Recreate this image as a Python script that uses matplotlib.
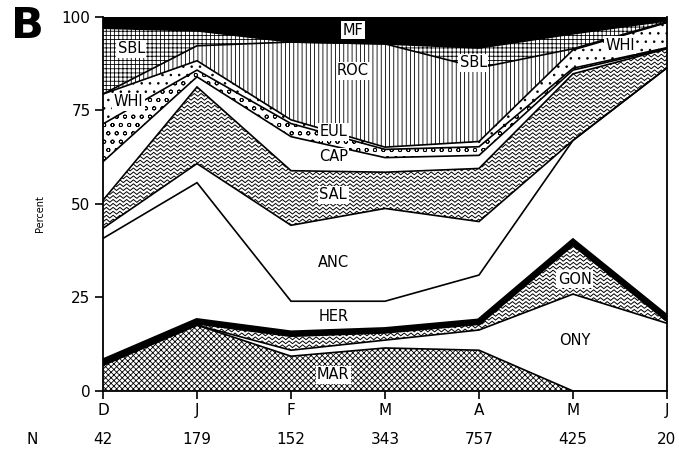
import numpy as np
import matplotlib
matplotlib.use("Agg")
import matplotlib.pyplot as plt
from matplotlib.collections import LineCollection
from matplotlib.patches import PathPatch

# months and sample sizes
months = ["D", "J", "F", "M", "A", "M", "J"]
n_samples = [42, 179, 152, 343, 757, 425, 20]

# percent of each group per month (bottom to top)
MAR = [6.9, 17.6, 9.3, 11.5, 10.9, 0.0, 0.0]
ONY = [0.0, 0.0, 1.6, 2.1, 5.4, 25.9, 18.1]
GON = [0.9, 1.0, 4.4, 2.6, 2.2, 13.9, 1.4]
HER = [33.0, 37.1, 8.7, 7.8, 12.5, 27.2, 66.9]
ANC = [2.7, 5.1, 20.3, 24.8, 14.3, 0.0, 0.0]
SAL = [7.5, 20.5, 14.6, 9.7, 14.2, 17.8, 5.1]
CAP = [10.3, 2.7, 9.1, 3.9, 3.5, 1.0, 0.1]
EUL = [10.1, 1.8, 3.5, 2.2, 2.3, 0.5, 0.2]
WHI = [8.0, 2.5, 1.0, 0.6, 1.4, 4.9, 6.7]
ROC = [0.0, 4.0, 20.8, 27.6, 19.7, 0.3, 0.2]
SBL = [17.6, 4.0, 0.0, 0.0, 5.3, 4.0, 0.3]
MF = [3.0, 3.7, 6.7, 7.2, 8.3, 4.5, 1.0]

layers = [("MAR", MAR, "xxxxxx"), ("ONY", ONY, None), ("GON", GON, "wavy"),
          ("HER", HER, None), ("ANC", ANC, None), ("SAL", SAL, "wavy"),
          ("CAP", CAP, None), ("EUL", EUL, "oo"), ("WHI", WHI, ".."),
          ("ROC", ROC, "||||"), ("SBL", SBL, "++++"), ("MF", MF, "black")]

plt.rcParams["hatch.linewidth"] = 0.6

x = np.arange(len(months))
fig = plt.figure(figsize=(6.79, 4.54), dpi=100)
ax = fig.add_axes([0.1517, 0.1388, 0.8306, 0.8238])


def wavy_fill(ax, x, lo, hi):
    # white band filled with rows of small zigzags, clipped to the band
    poly = ax.fill_between(x, lo, hi, facecolor="white", edgecolor="none")
    clip = PathPatch(poly.get_paths()[0], transform=ax.transData,
                     facecolor="none", edgecolor="none")
    ax.add_patch(clip)
    xs = np.arange(0, x[-1] + 0.05, 0.036)
    zig = np.where(np.arange(len(xs)) % 2 == 0, 0.0, 0.75)
    segs = [np.column_stack([xs, y0 + zig]) for y0 in np.arange(-1, 101, 1.05)]
    lc = LineCollection(segs, colors="k", linewidths=0.7)
    ax.add_collection(lc)
    lc.set_clip_path(clip)


bottom = np.zeros(len(x))
tops = {}
for name, vals, style in layers:
    top = bottom + np.array(vals)
    if style == "wavy":
        wavy_fill(ax, x, bottom, top)
    elif style == "black":
        ax.fill_between(x, bottom, top, facecolor="black", edgecolor="none")
    elif style is None:
        ax.fill_between(x, bottom, top, facecolor="white", edgecolor="none")
    else:
        ax.fill_between(x, bottom, top, facecolor="white", edgecolor="black",
                        hatch=style, linewidth=0)
    tops[name] = top
    bottom = top

# boundary lines
for name, vals, style in layers[:-1]:
    lw = 1.2
    if name == "GON":
        lw = 4.8
    ax.plot(x, tops[name], color="black", lw=lw, solid_joinstyle="miter")

# labels
lab = dict(fontsize=10.5, ha="center", va="center", color="black")
box = dict(boxstyle="square,pad=0.1", facecolor="white", edgecolor="none")
ax.text(2.66, 96.5, "MF", bbox=box, **lab)
ax.text(0.30, 91.5, "SBL", bbox=box, **lab)
ax.text(3.94, 87.7, "SBL", bbox=box, **lab)
ax.text(2.66, 85.6, "ROC", bbox=box, **lab)
ax.text(0.27, 77.3, "WHI", bbox=box, **lab)
ax.text(5.50, 92.5, "WHI", bbox=box, **lab)
ax.text(2.45, 69.3, "EUL", bbox=box, **lab)
ax.text(2.45, 62.7, "CAP", bbox=box, **lab)
ax.text(2.45, 52.5, "SAL", bbox=box, **lab)
ax.text(2.45, 34.4, "ANC", **lab)
ax.text(2.45, 20.0, "HER", **lab)
ax.text(2.45, 4.3, "MAR", bbox=box, **lab)
ax.text(5.02, 29.9, "GON", bbox=box, **lab)
ax.text(5.02, 13.6, "ONY", **lab)

ax.set_xlim(0, 6)
ax.set_ylim(0, 100)
ax.set_xticks(x)
ax.set_xticklabels(months, fontsize=11)
ax.set_yticks([0, 25, 50, 75, 100])
ax.set_yticklabels(["0", "25", "50", "75", "100"], fontsize=11)
ax.tick_params(direction="out", length=6, width=1.2, pad=3)
ax.spines["top"].set_visible(False)
for s in ["left", "right", "bottom"]:
    ax.spines[s].set_linewidth(1.3)

# sample sizes row
trans = ax.get_xaxis_transform()
ax.text(-0.755, -0.131, "N", transform=trans, ha="center", va="center",
        fontsize=11, clip_on=False)
for xi, n in zip(x, n_samples):
    ax.text(xi, -0.131, str(n), transform=trans, ha="center", va="center",
            fontsize=11, clip_on=False)

fig.text(0.059, 0.53, "Percent", rotation=90, ha="center", va="center", fontsize=7)
fig.text(0.04, 0.943, "B", ha="center", va="center", fontsize=31, fontweight="bold")

fig.savefig("out.png", dpi=100)
